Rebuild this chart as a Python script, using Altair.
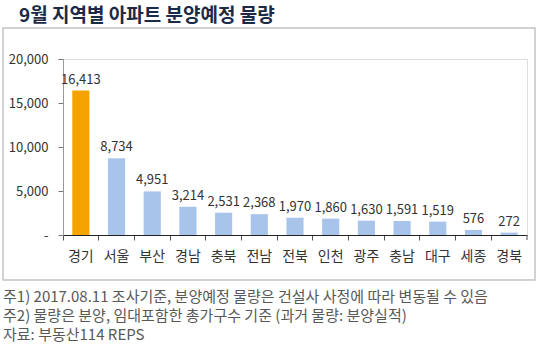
import altair as alt
import pandas as pd

regions = ["경기", "서울", "부산", "경남", "충북", "전남", "전북", "인천", "광주", "충남", "대구", "세종", "경북"]
values = [16413, 8734, 4951, 3214, 2531, 2368, 1970, 1860, 1630, 1591, 1519, 576, 272]
highlight = ["경기"]

title_text = "9월 지역별 아파트 분양예정 물량"
notes = [
    "주1) 2017.08.11 조사기준, 분양예정 물량은 건설사 사정에 따라 변동될 수 있음",
    "주2) 물량은 분양, 임대포함한 총가구수 기준 (과거 물량: 분양실적)",
    "자료: 부동산114 REPS",
]

FONT = "Noto Sans CJK KR"
W, H = 464, 176

df = pd.DataFrame({"region": regions, "value": values})
df["hl"] = df["region"].isin(highlight).map({True: "y", False: "n"})

xenc = alt.X("region:N", sort=regions,
             scale=alt.Scale(paddingInner=0, paddingOuter=0),
             axis=alt.Axis(title=None, labelAngle=0, labelFont=FONT, labelFontSize=14,
                           labelColor="#333333", labelPadding=9, tickSize=5,
                           tickColor="#555555", domainColor="#222222", bandPosition=0))
yenc = alt.Y("value:Q", scale=alt.Scale(domain=[0, 20000]),
             axis=alt.Axis(title=None, values=[0, 5000, 10000, 15000, 20000], grid=False,
                           labelExpr="datum.value == 0 ? '-' : format(datum.value, ',')",
                           labelFont=FONT, labelFontSize=13, labelColor="#333333",
                           labelPadding=10, tickSize=5, tickColor="#777777",
                           domainColor="#999999"))

bars = alt.Chart(df).mark_bar(width=alt.RelativeBandSize(0.48)).encode(
    x=xenc, y=yenc,
    color=alt.Color("hl:N", scale=alt.Scale(domain=["y", "n"], range=["#F5A300", "#A9C4EB"]), legend=None),
)

labels = alt.Chart(df).mark_text(font=FONT, fontSize=13, color="#333333", baseline="bottom", dy=-4).encode(
    x=alt.X("region:N", sort=regions),
    y="value:Q",
    text=alt.Text("value:Q", format=","),
)

end_tick = alt.Chart(pd.DataFrame({"a": [0]})).mark_rule(color="#555555").encode(
    x=alt.value(W), y=alt.value(H), y2=alt.value(H + 5))

box = alt.Chart(pd.DataFrame({"a": [0]})).mark_rect(
    fill=None, stroke="#C4C4C4", strokeWidth=1.5, clip=False).encode(
    x=alt.value(-60), x2=alt.value(472), y=alt.value(-31), y2=alt.value(221))

title = alt.Chart(pd.DataFrame({"t": [title_text]})).mark_text(
    font=FONT, fontSize=19, fontWeight="bold", color="#1B2A47", align="left", baseline="middle").encode(
    text="t:N", x=alt.value(-44), y=alt.value(-43))

note_layers = []
for i, note in enumerate(notes):
    note_layers.append(
        alt.Chart(pd.DataFrame({"t": [note]})).mark_text(
            font=FONT, fontSize=15, color="#595959", align="left", baseline="middle").encode(
            text="t:N", x=alt.value(-60), y=alt.value(238 + 19 * i))
    )

chart = alt.layer(box, bars, labels, end_tick, title, *note_layers).properties(
    width=W, height=H,
    autosize=alt.AutoSizeParams(type="none"),
    padding={"left": 63, "top": 59, "right": 13, "bottom": 119},
).configure_view(stroke=None).configure(background="white")

chart.save("out.html", embed_options={"renderer": "svg", "actions": False})
